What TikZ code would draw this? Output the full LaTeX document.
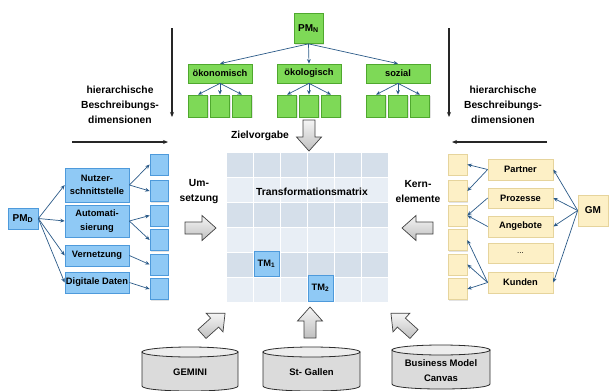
\documentclass[tikz,border=0pt]{standalone}
\usepackage{fontspec}
\setmainfont{Liberation Sans}
\usetikzlibrary{arrows.meta,shadows}

\definecolor{grfill}{HTML}{7ED957}
\definecolor{grline}{HTML}{4FA82E}
\definecolor{blfill}{HTML}{8FC9F5}
\definecolor{blline}{HTML}{4E9ADB}
\definecolor{yefill}{HTML}{FDF0C6}
\definecolor{yeline}{HTML}{E6D49C}
\definecolor{linkblue}{HTML}{2B5A88}
\definecolor{rowdark}{HTML}{D5DFEA}
\definecolor{rowlight}{HTML}{E8EEF5}

\tikzset{
  bw/.style={minimum width=#1},
  bh/.style={minimum height=#1},
  basebox/.style={rectangle, draw, line width=0.7pt, inner sep=0pt, align=center,
    font=\bfseries\fontsize{9.3}{13.5}\selectfont,
    drop shadow={opacity=0.22, shadow xshift=1.2pt, shadow yshift=-1.2pt}},
  greenbox/.style={basebox, fill=grfill, draw=grline},
  bluebox/.style={basebox, fill=blfill, draw=blline},
  yellowbox/.style={basebox, fill=yefill, draw=yeline},
  link/.style={draw=linkblue, line width=0.7pt, -{Stealth[length=4.5pt,width=3.8pt]}},
  dimarrow/.style={draw=black!85, line width=1.1pt, -{Stealth[length=5pt,width=4pt]}},
  caption/.style={font=\bfseries\fontsize{10.3}{15}\selectfont, align=center, inner sep=0pt},
  fatarrowstyle/.style={draw=gray!50!black, line width=0.7pt, top color=gray!8, bottom color=gray!50},
  cylbody/.style={draw=gray!35!black, line width=0.8pt, fill=gray!28},
  cyltop/.style={draw=gray!35!black, line width=0.8pt, fill=gray!14},
  fatarrow/.pic={
    \path[fatarrowstyle] (0,-6) -- (17,-6) -- (17,-12.5) -- (31,0) -- (17,12.5) -- (17,6) -- (0,6) -- cycle;
  },
}

\begin{document}
\begin{tikzpicture}[x=1pt,y=-1pt]
\useasboundingbox (0,0) rectangle (611,391);

% ---------- hierarchy of sustainability dimensions (green) ----------
\node[greenbox, bw=29, bh=30, font=\bfseries\fontsize{10}{12}\selectfont] (pmn) at (308.5,28.5) {PM\textsubscript{N}};
\node[greenbox, bw=64, bh=19] (oeko)  at (220,73.5) {ökonomisch};
\node[greenbox, bw=64, bh=19] (oekol) at (309,73.5) {ökologisch};
\node[greenbox, bw=64, bh=19] (soz)   at (398,73.5) {sozial};
\foreach \c in {oeko,oekol,soz} {
  \draw[link] (pmn.south) -- (\c.north);
}
\foreach \c/\cx in {oeko/220,oekol/309,soz/398} {
  \foreach \k/\dx in {1/-22,2/0,3/22} {
    \node[greenbox, bw=19, bh=22] (\c-\k) at (\cx+\dx,106) {};
    \draw[link] (\c.south) -- (\c-\k.north);
  }
}

% ---------- dimension arrows and captions ----------
\coordinate (lvt) at (172,28);  \coordinate (lvb) at (172,117);
\coordinate (lhl) at (72,142);  \coordinate (lhr) at (168,142);
\coordinate (rvt) at (449,28);  \coordinate (rvb) at (449,117);
\coordinate (rhr) at (547,142); \coordinate (rhl) at (452,142);
\draw[dimarrow] (lvt) -- (lvb);
\draw[dimarrow] (lhl) -- (lhr);
\draw[dimarrow] (rvt) -- (rvb);
\draw[dimarrow] (rhr) -- (rhl);
\node[caption] (hierl) at (120,105) {hierarchische\\Beschreibungs-\\dimensionen};
\node[caption] (hierr) at (503,105) {hierarchische\\Beschreibungs-\\dimensionen};
\node[caption] (ziel)  at (260,136) {Zielvorgabe};
\node[caption] (umsetz) at (199,192) {Um-\\setzung};
\node[caption] (kern)  at (418,192) {Kern-\\elemente};

% ---------- transformation matrix ----------
\node[minimum width=161, minimum height=149, inner sep=0pt] (tmx) at (307.5,227.5) {};
\foreach \r/\col in {0/rowdark,1/rowlight,2/rowdark,3/rowlight,4/rowdark,5/rowlight} {
  \fill[\col] (227,{153+\r*24.833}) rectangle ++(161,24.833);
}
\foreach \i in {1,...,5} {
  \draw[white, line width=0.9pt] ({227+\i*26.833},153) -- ++(0,149);
  \draw[white, line width=0.9pt] (227,{153+\i*24.833}) -- ++(161,0);
}
\node[caption] (tmtitle) at (312,192) {Transformationsmatrix};
\node[bluebox, bw=25, bh=25] (tm1) at (266.5,263.5) {TM\textsubscript{1}};
\node[bluebox, bw=25, bh=26] (tm2) at (320.5,288) {TM\textsubscript{2}};

% ---------- digitalisation side (blue) ----------
\node[bluebox, bw=30, bh=21, font=\bfseries\fontsize{10}{12}\selectfont] (pmd) at (23,218.5) {PM\textsubscript{D}};
\node[bluebox, bw=64, bh=34] (nutz) at (97,185)   {Nutzer-\\schnittstelle};
\node[bluebox, bw=64, bh=32] (auto) at (97,221)   {Automati-\\sierung};
\node[bluebox, bw=64, bh=21] (vern) at (97,255.5) {Vernetzung};
\node[bluebox, bw=64, bh=21] (digi) at (97,282.5) {Digitale Daten};
\foreach \k/\yy in {1/164.5,2/191,3/215.5,4/240,5/264.5,6/289} {
  \node[bluebox, bw=18, bh=21] (b\k) at (159,\yy) {};
  \node[yellowbox, bw=19, bh=21] (y\k) at (457.5,\yy) {};
}
\foreach \t in {nutz,auto,vern,digi} { \draw[link] (pmd.east) -- (\t.west); }
\draw[link] (nutz.east) -- (b1.west);
\draw[link] (nutz.east) -- (b2.west);
\draw[link] (auto.east) -- (b3.west);
\draw[link] (auto.east) -- (b4.west);
\draw[link] (vern.east) -- (b5.west);
\draw[link] (digi.east) -- (b6.west);

% ---------- business model side (yellow) ----------
\node[yellowbox, bw=65, bh=21] (partner) at (520.5,169.5) {Partner};
\node[yellowbox, bw=65, bh=20] (proz)    at (520.5,198)   {Prozesse};
\node[yellowbox, bw=65, bh=21] (ange)    at (520.5,226.5) {Angebote};
\node[yellowbox, bw=65, bh=20, font=\fontsize{8}{10}\selectfont] (dots) at (520.5,253) {...};
\node[yellowbox, bw=65, bh=21] (kund)    at (520.5,282.5) {Kunden};
\node[yellowbox, bw=30, bh=31, font=\bfseries\fontsize{10}{12}\selectfont] (gm) at (593,210.5) {GM};
\foreach \t in {partner,proz,ange,kund} { \draw[link] (gm.west) -- (\t.east); }
\draw[link] (partner.west) -- (y1.east);
\draw[link] (partner.west) -- (y2.east);
\draw[link] (proz.west) -- (y3.east);
\draw[link] (ange.west) -- (y3.east);
\draw[link] (kund.west) -- (y4.east);
\draw[link] (kund.west) -- (y5.east);
\draw[link] (kund.west) -- (y6.east);

% ---------- block arrows ----------
\pic (fa-um)   [rotate=0]   at (185,228) {fatarrow};
\pic (fa-kern) [rotate=180] at (433,228) {fatarrow};
\pic (fa-ziel) [rotate=-90] at (309,120) {fatarrow};
\pic (fa-gem)  [rotate=42]  at (202,334) {fatarrow};
\pic (fa-stg)  [rotate=90]  at (310,338) {fatarrow};
\pic (fa-bmc)  [rotate=138] at (414,334) {fatarrow};

% ---------- model databases ----------
\foreach \nm/\cx/\rx/\ytop/\ybot in {gem/190/48/352/386, stg/311.5/48.5/352/386, bmc/441/49/350/384} {
  \path[cylbody] (\cx-\rx,\ytop) -- (\cx-\rx,\ybot)
     .. controls (\cx-\rx,\ybot+6.7) and (\cx+\rx,\ybot+6.7) .. (\cx+\rx,\ybot)
     -- (\cx+\rx,\ytop) -- cycle;
  \path[cyltop] (\cx,\ytop) ellipse [x radius=\rx, y radius=5];
}
\node[caption, font=\bfseries\fontsize{9.5}{15}\selectfont] (gemini) at (190,372) {GEMINI};
\node[caption, font=\bfseries\fontsize{9.5}{15}\selectfont] (stgallen) at (311.5,372) {St- Gallen};
\node[caption, font=\bfseries\fontsize{9.5}{15}\selectfont] (bmcanvas) at (441,371) {Business Model\\Canvas};
\end{tikzpicture}
\end{document}
